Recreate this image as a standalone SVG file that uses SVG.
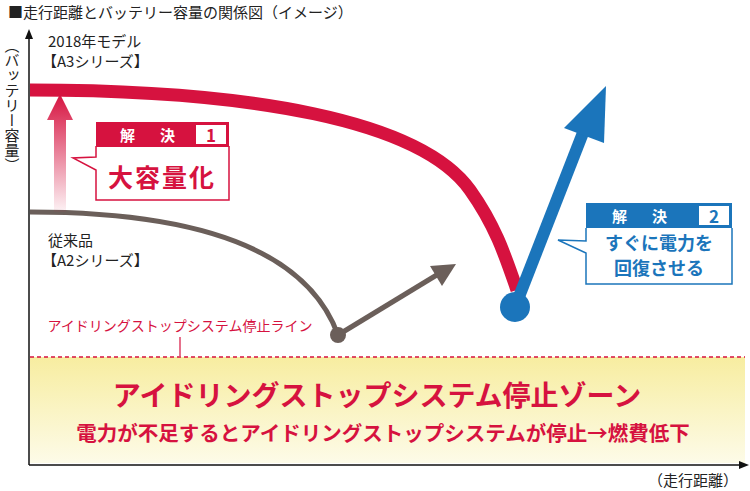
<svg xmlns="http://www.w3.org/2000/svg" width="750" height="491" viewBox="0 0 750 491">
<defs>
<linearGradient id="zone" x1="0" y1="0" x2="0" y2="1"><stop offset="0" stop-color="#f7eda0"/><stop offset="1" stop-color="#fdfbe8"/></linearGradient>
<linearGradient id="up" x1="0" y1="0" x2="0" y2="1"><stop offset="0" stop-color="#d6123f"/><stop offset="1" stop-color="#d6123f" stop-opacity="0.05"/></linearGradient>
<marker id="ax" markerWidth="10" markerHeight="10" refX="5" refY="5" orient="auto" markerUnits="userSpaceOnUse"><path d="M0,1 L10,5 L0,9 Z" fill="#111"/></marker>
<style>
text{font-family:"Noto Sans CJK JP","Noto Sans",sans-serif}
.t{font-size:15px;fill:#222}
</style>
</defs>
<rect width="750" height="491" fill="#fff"/>
<rect x="30" y="357" width="715" height="106" fill="url(#zone)"/>
<g id="axes" stroke="#111" stroke-width="1.5" fill="none">
<line x1="29" y1="465" x2="29" y2="34" marker-end="url(#ax)"/>
<line x1="29" y1="465" x2="744" y2="465" marker-end="url(#ax)"/>
</g>
<text x="8" y="18" class="t" font-size="15">■走行距離とバッテリー容量の関係図（イメージ）</text>
<text x="48" y="47" class="t">2018年モデル</text>
<text x="42" y="67" class="t">【A3シリーズ】</text>
<text x="48" y="246" class="t">従来品</text>
<text x="42" y="266" class="t">【A2シリーズ】</text>
<text class="t" font-size="14" writing-mode="tb" x="12" y="38">（バッテリー容量）</text>
<text x="738" y="486" class="t" font-size="14" text-anchor="end">（走行距離）</text>
<g id="connectors">
<line x1="30" y1="357" x2="745" y2="357" stroke="#d6123f" stroke-width="1.5" stroke-dasharray="4,3"/>
<line x1="180" y1="337" x2="180" y2="356" stroke="#d6123f" stroke-width="1.2"/>
<path d="M30,90 C250,90 420,120 470,190 C495,225 505,255 517,290" fill="none" stroke="#d6123f" stroke-width="13"/>
<path d="M30,212 C150,212 300,230 338,335" fill="none" stroke="#6b5f5a" stroke-width="5"/>
<line x1="338" y1="335" x2="440" y2="273" stroke="#6b5f5a" stroke-width="5"/>
<path d="M456,264 L430,266 L442,286 Z" fill="#6b5f5a"/>
<circle cx="338" cy="335" r="8" fill="#6b5f5a"/>
<path d="M54,212 L54,120 L47,120 L60,94 L73,120 L66,120 L66,212 Z" fill="url(#up)"/>
<line x1="515" y1="307" x2="588" y2="120" stroke="#1b75bb" stroke-width="12"/>
<path d="M606,86 L564,128 L604,143 Z" fill="#1b75bb"/>
<circle cx="515" cy="307" r="15" fill="#1b75bb"/>
</g>
<g id="callout1">
<path d="M96,146 L96,157 L73,158 L96,170 L96,200 L229,200 L229,146" fill="#fff" stroke="#d6123f" stroke-width="1.5"/>
<rect x="96" y="122" width="133" height="25" fill="#d6123f"/>
<rect x="196" y="125" width="30" height="19" fill="#fff"/>
<text x="120" y="141" fill="#fff" font-size="15" font-weight="bold">解</text>
<text x="160" y="141" fill="#fff" font-size="15" font-weight="bold">決</text>
<text x="211" y="142" fill="#d6123f" font-size="17" font-weight="bold" text-anchor="middle" font-family="Liberation Sans,sans-serif">1</text>
<text x="162" y="187" fill="#d6123f" font-size="25" font-weight="bold" text-anchor="middle" letter-spacing="2">大容量化</text>
</g>
<g id="callout2">
<path d="M586,228 L586,241 L558,240 L586,253 L586,284 L732,284 L732,228" fill="#fff" stroke="#1b75bb" stroke-width="1.5"/>
<rect x="586" y="203" width="146" height="25" fill="#1b75bb"/>
<rect x="699" y="206" width="30" height="19" fill="#fff"/>
<text x="612" y="222" fill="#fff" font-size="15" font-weight="bold">解</text>
<text x="652" y="222" fill="#fff" font-size="15" font-weight="bold">決</text>
<text x="714" y="223" fill="#1b75bb" font-size="17" font-weight="bold" text-anchor="middle" font-family="Liberation Sans,sans-serif">2</text>
<text x="659" y="250" fill="#1b75bb" font-size="18" font-weight="bold" text-anchor="middle">すぐに電力を</text>
<text x="659" y="275" fill="#1b75bb" font-size="18" font-weight="bold" text-anchor="middle">回復させる</text>
</g>
<g id="zone-labels">
<text x="180" y="331" fill="#d6123f" font-size="14" text-anchor="middle">アイドリングストップシステム停止ライン</text>
<text x="377" y="406" fill="#d6123f" font-size="28" font-weight="bold" text-anchor="middle">アイドリングストップシステム停止ゾーン</text>
<text x="383" y="441" fill="#d6123f" font-size="20.5" font-weight="bold" text-anchor="middle">電力が不足するとアイドリングストップシステムが停止→燃費低下</text>
</g>
</svg>
